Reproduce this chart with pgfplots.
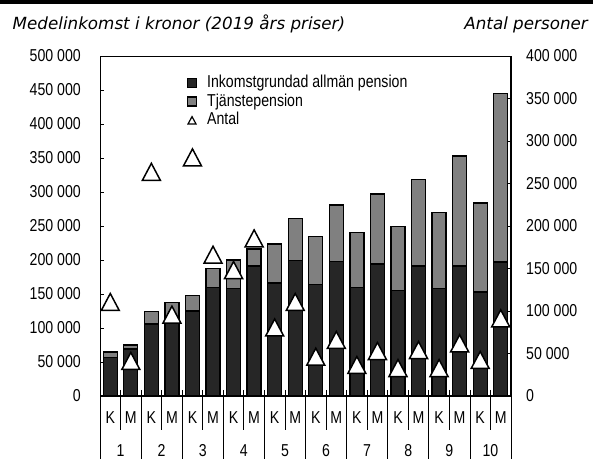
\documentclass[border=0pt]{standalone}
\usepackage{fontspec}
\setmainfont{Liberation Sans}[FakeStretch=0.82]
\newfontfamily\titlefont{DejaVu Sans}
\usepackage{pgfplots}
\pgfplotsset{compat=1.18}

\definecolor{darkbar}{RGB}{38,38,38}
\definecolor{graybar}{RGB}{128,128,128}

% triangle centred on its bounding box
\pgfdeclareplotmark{btri}{%
  \pgfpathmoveto{\pgfqpoint{-9bp}{-8.5bp}}%
  \pgfpathlineto{\pgfqpoint{9bp}{-8.5bp}}%
  \pgfpathlineto{\pgfqpoint{0bp}{8.5bp}}%
  \pgfpathclose
  \pgfusepathqfillstroke}

\pgfplotsset{
  sqlegend/.style={legend image code/.code={\draw[##1,/tikz/.cd,line width=1.2bp] (0bp,-4.5bp) rectangle (9bp,4.5bp);}},
  trilegend/.style={legend image code/.code={\draw[black,line width=1.2bp] (0.5bp,-3.7bp) -- (8.5bp,-3.7bp) -- (4.5bp,3.7bp) -- cycle;}},
}

\begin{document}
\begin{tikzpicture}[font=\fontsize{17.3}{20}\selectfont]
\useasboundingbox (0,0) rectangle (593bp,459bp);
\fill[black] (0,454.5bp) rectangle (593bp,459bp);
\node[anchor=base west,inner sep=0pt,font=\titlefont\itshape\fontsize{16.8}{19}\selectfont] at (12.5bp,429.7bp) {Medelinkomst i kronor (2019 års priser)};
\node[anchor=base east,inner sep=0pt,font=\titlefont\itshape\fontsize{16.8}{19}\selectfont] at (588bp,429.7bp) {Antal personer};

\begin{axis}[
  at={(100bp,63bp)}, anchor=south west,
  width=411bp, height=340bp, scale only axis,
  xmin=-0.5, xmax=19.5, ymin=0, ymax=500000,
  clip=false,
  axis x line*=bottom, axis y line*=left,
  x axis line style={line width=2bp,-},
  y axis line style={line width=1bp,-},
  tick align=inside, major tick length=4bp,
  scaled y ticks=false,
  ytick={0,50000,...,500000},
  yticklabels={0,50 000,100 000,150 000,200 000,250 000,300 000,350 000,400 000,450 000,500 000},
  yticklabel style={anchor=east,inner sep=0pt,xshift=-19bp},
  y tick style={black,line width=0.8bp},
  xtick={0,...,19},
  xticklabels={K,M,K,M,K,M,K,M,K,M,K,M,K,M,K,M,K,M,K,M},
  x tick style={draw=none},
  xticklabel style={anchor=base,inner sep=0pt,yshift=-27.5bp},
  ybar stacked, bar width=14bp,
  legend style={at={(0.211,0.9485)}, anchor=north west, draw=none, fill=none,
    inner sep=0pt, row sep=0.8bp, column sep=9bp,
    nodes={inner sep=1bp, text height=12.5bp, text depth=3.5bp}},
  legend cell align=left,
]
\addplot[fill=darkbar, draw=black, line width=1.3bp, sqlegend]
coordinates {
  (0,57000) (1,69000) (2,106000) (3,110000) (4,125000) (5,160000) (6,158000) (7,191000) (8,166000) (9,199000)
  (10,164000) (11,198000) (12,160000) (13,194000) (14,155000) (15,191000) (16,158000) (17,191000) (18,153000) (19,197000)
};
\addplot[fill=graybar, draw=black, line width=1.3bp, sqlegend]
coordinates {
  (0,7500) (1,6000) (2,18000) (3,28000) (4,23000) (5,27000) (6,42000) (7,25000) (8,57500) (9,62000)
  (10,71000) (11,83000) (12,80500) (13,103000) (14,94000) (15,127000) (16,112000) (17,162000) (18,131000) (19,247500)
};
\addlegendimage{trilegend}
\legend{Inkomstgrundad allmän pension, Tjänstepension, Antal}

\draw[line width=0.8bp] (rel axis cs:0,1) -- (rel axis cs:1,1);
% category separators below the axis
\pgfplotsinvokeforeach{0.5,2.5,...,18.5}{
  \draw[line width=0.8bp] ([yshift=6bp]axis cs:#1,0) -- ([yshift=-34bp]axis cs:#1,0);
}
\pgfplotsinvokeforeach{-0.5,1.5,...,19.5}{
  \draw[line width=0.8bp] ([yshift=6bp]axis cs:#1,0) -- ([yshift=-70bp]axis cs:#1,0);
}
\end{axis}

\begin{axis}[
  at={(100bp,63bp)}, anchor=south west,
  width=411bp, height=340bp, scale only axis,
  xmin=-0.5, xmax=19.5, ymin=0, ymax=400000,
  clip=false,
  axis x line*=bottom, axis y line*=right,
  x axis line style={draw=none},
  y axis line style={line width=2bp,-},
  tick align=inside, major tick length=4bp,
  scaled y ticks=false,
  ytick={0,50000,...,400000},
  yticklabels={0,50 000,100 000,150 000,200 000,250 000,300 000,350 000,400 000},
  yticklabel style={anchor=west,inner sep=0pt,xshift=15bp},
  y tick style={black,line width=0.8bp},
  xtick={0.5,2.5,...,18.5},
  xticklabels={1,2,3,4,5,6,7,8,9,10},
  x tick style={draw=none},
  xticklabel style={anchor=base,inner sep=0pt,yshift=-60bp},
]
\addplot[only marks, mark=btri, mark options={fill=white, draw=black, line width=1.5bp}]
coordinates {
  (0,110600) (1,41200) (2,263700) (3,95700) (4,280700) (5,166200) (6,148200) (7,185400) (8,80600) (9,110600)
  (10,46200) (11,65900) (12,36500) (13,52900) (14,32900) (15,54100) (16,32900) (17,62000) (18,42400) (19,91400)
};
\end{axis}
\end{tikzpicture}
\end{document}
